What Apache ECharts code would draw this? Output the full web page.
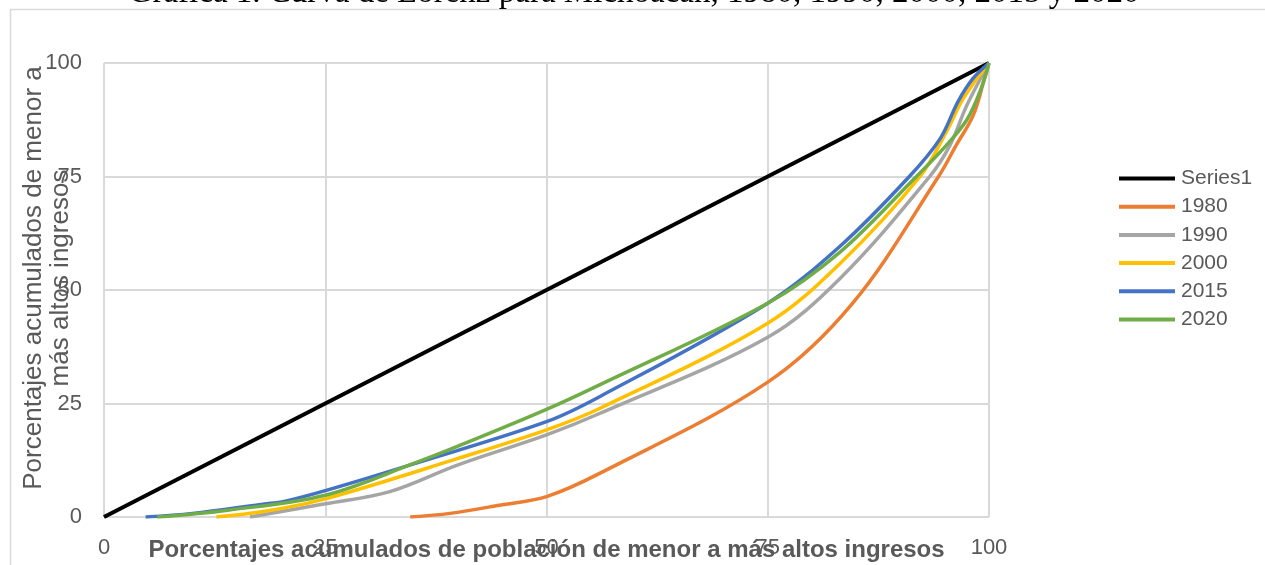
<!DOCTYPE html>
<html>
<head>
<meta charset="utf-8">
<script src="https://cdn.jsdelivr.net/npm/echarts@6/dist/echarts.min.js"></script>
<style>
html,body{margin:0;padding:0;background:#fff;}
#c{width:1265px;height:565px;}
</style>
</head>
<body>
<div id="c"></div>
<script>
const titleText = 'Gráfica 1. Curva de Lorenz para Michoacán, 1980, 1990, 2000, 2015 y 2020';
const xAxisTitle = 'Porcentajes acumulados de población de menor a más altos ingresos';
const yAxisTitle = 'Porcentajes acumulados de menor a\nmás altos ingresos';
const seriesNames = ['Series1', '1980', '1990', '2000', '2015', '2020'];
const xTicks = [0, 25, 50, 75, 100];

const equality = [[0, 0], [100, 100]];
const y1980 = [[34.6, 0], [39.1, 0.8], [44.7, 2.6], [50, 4.5], [56, 9.6], [75, 29.7], [84.6, 47.1], [94.3, 75], [96.3, 81.9], [98.2, 88.4], [99.4, 95.9], [100, 100]];
const y1990 = [[16.5, 0], [25, 2.9], [32.3, 5.6], [40, 11.5], [50, 18.1], [56, 22.8], [75, 39.6], [83.2, 52.6], [93.3, 75], [95.6, 81.9], [97.5, 90.7], [100, 100]];
const y2000 = [[12.7, 0], [18, 1.2], [25, 4.0], [40, 12.9], [50, 19.2], [56, 23.9], [75, 42.7], [83.2, 55.9], [92.2, 75], [95.2, 84.9], [97.1, 92.2], [100, 100]];
const y2015 = [[4.7, 0], [10, 0.8], [18.6, 3.0], [20.1, 3.3], [25, 5.8], [35, 11.7], [50, 21.0], [56, 26.5], [75, 47.1], [83.2, 59.7], [91, 75], [94.5, 83.4], [96.5, 91.5], [98.2, 96.6], [100, 100]];
const y2020 = [[6, 0], [14, 1.5], [25, 4.8], [35, 11.8], [40, 15.6], [50, 23.7], [56, 29.1], [75, 47.1], [83.2, 58.4], [91.8, 75], [95.2, 81.9], [97.5, 87.5], [99, 93.8], [100, 100]];

const seriesData = [equality, y1980, y1990, y2000, y2015, y2020];
const colors = ['#000000', '#ED7D31', '#A5A5A5', '#FFC000', '#4472C4', '#70AD47'];
const widths = [4, 3.5, 3.5, 3.5, 3.5, 3.5];

const FONT = 'Liberation Sans, Arial, sans-serif';
const chart = echarts.init(document.getElementById('c'));

chart.setOption({
  animation: false,
  backgroundColor: '#ffffff',
  grid: { left: 104, right: 276, top: 63, bottom: 48, containLabel: false, outerBoundsMode: 'none' },
  xAxis: {
    type: 'value', min: 0, max: 100, interval: 25,
    axisLine: { show: false }, axisTick: { show: false },
    axisLabel: { color: '#595959', fontSize: 22, fontFamily: FONT, margin: 20,
      formatter: v => xTicks.includes(v) ? String(v) : '' },
    splitLine: { lineStyle: { color: '#d9d9d9', width: 2 } },
    name: xAxisTitle, nameLocation: 'middle', nameGap: 21, nameMoveOverlap: false,
    nameTextStyle: { color: '#595959', fontSize: 24, fontWeight: 'bold', fontFamily: FONT }
  },
  yAxis: {
    type: 'value', min: 0, max: 100, interval: 25,
    axisLine: { show: false }, axisTick: { show: false },
    axisLabel: { color: '#595959', fontSize: 22, fontFamily: FONT, margin: 22 },
    splitLine: { lineStyle: { color: '#d9d9d9', width: 2 } }
  },
  legend: {
    orient: 'vertical', left: 1119, top: 168, padding: 0,
    icon: 'rect', itemWidth: 56, itemHeight: 4, itemGap: 7.2,
    textStyle: { color: '#595959', fontSize: 21, fontFamily: FONT, padding: [0, 0, 0, 1] },
    data: seriesNames
  },
  graphic: [
    { type: 'rect', silent: true, shape: { x: 10.5, y: 9.5, width: 1400, height: 700 },
      style: { fill: 'none', stroke: '#d9d9d9', lineWidth: 1.5 } },
    { type: 'text', silent: true, x: 634, y: 10,
      style: { text: titleText, fill: '#000', font: '33px "Liberation Serif", serif',
        align: 'center', verticalAlign: 'bottom' } },
    { type: 'text', silent: true, x: 47, y: 278, rotation: Math.PI / 2,
      style: { text: yAxisTitle, fill: '#595959', font: '26px "Liberation Sans", Arial, sans-serif',
        align: 'center', verticalAlign: 'middle', lineHeight: 27 } }
  ],
  series: seriesNames.map((n, i) => ({
    name: n, type: 'line', data: seriesData[i], smooth: i === 0 ? false : 0.35,
    symbol: 'none', showSymbol: false,
    lineStyle: { color: colors[i], width: widths[i] },
    itemStyle: { color: colors[i] },
    z: 2 + i
  }))
});
</script>
</body>
</html>
